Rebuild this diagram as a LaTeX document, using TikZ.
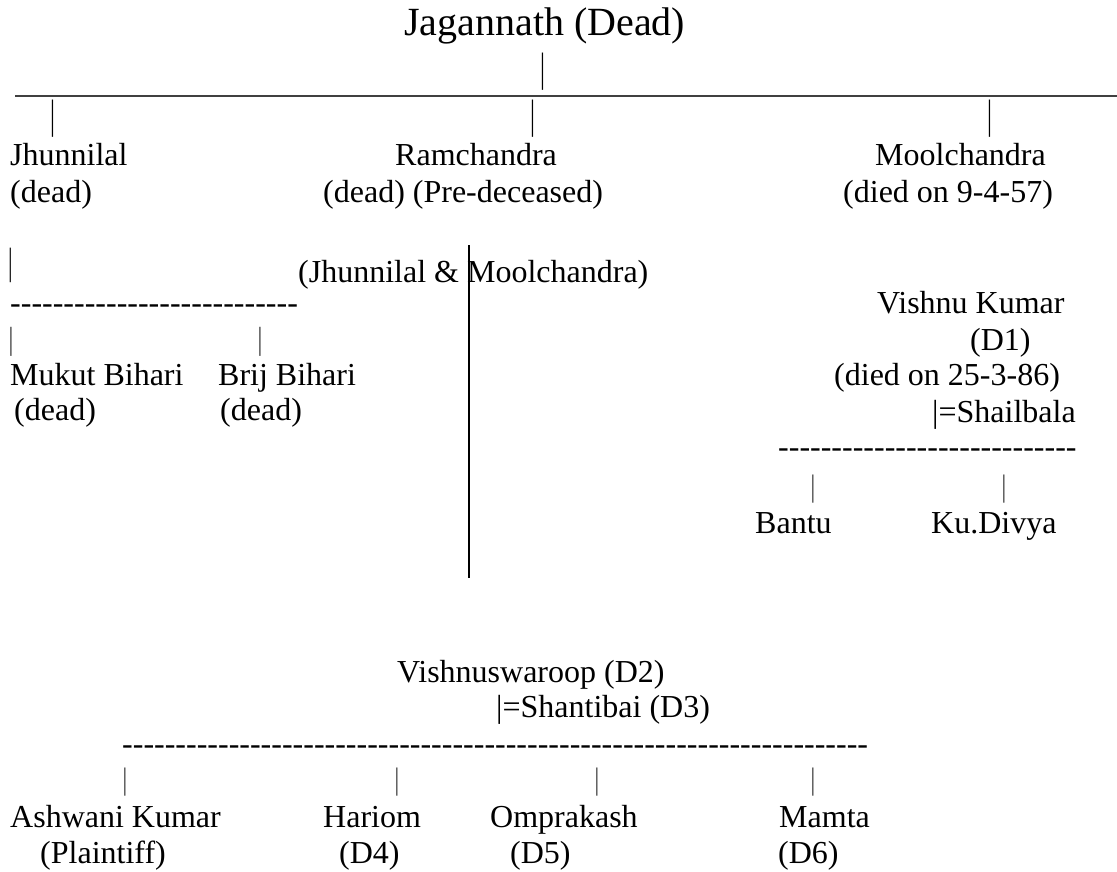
\documentclass[tikz,border=0pt]{standalone}
\usepackage{fontspec}
\newfontfamily\lserif{Liberation Serif}
\newcommand\thinbar{\scalebox{0.6}[1]{|}}
\begin{document}
\begin{tikzpicture}[x=1pt,y=-1pt,
  txt/.style={anchor=base west, inner sep=0pt, font=\lserif\fontsize{32}{36}\selectfont},
  titletxt/.style={anchor=base west, inner sep=0pt, font=\lserif\fontsize{40}{44}\selectfont},
  vbar/.style={anchor=center, inner sep=0pt, font=\lserif\fontsize{#1}{#1}\selectfont},
  vbar/.default=32,
  hline/.style={draw=black!75, line width=1.6pt},
  vline/.style={draw=black, line width=1.4pt}]
\useasboundingbox (0,0) rectangle (1117,872);
% top
\node[titletxt] (jag) at (404,36) {Jagannath (Dead)};
\node[vbar=41] (b0) at (543,72) {\thinbar};
\coordinate (hl) at (15,96);
\coordinate (hr) at (1117,96);
\draw[hline] (hl) -- (hr);
\node[vbar=41] (b1) at (53,118.5) {\thinbar};
\node[vbar=41] (b2) at (533,118.5) {\thinbar};
\node[vbar=41] (b3) at (990,118.5) {\thinbar};
\node[txt] (jhun) at (10,166) {Jhunnilal};
\node[txt] (jhund) at (10,202) {(dead)};
\node[txt] (ram) at (395,166) {Ramchandra};
\node[txt] (ramd) at (323,202) {(dead) (Pre-deceased)};
\node[txt] (mool) at (875,166) {Moolchandra};
\node[txt] (moold) at (843,202) {(died on 9-4-57)};
% left branch
\node[vbar=38] (b4) at (11,265) {\thinbar};
\node[txt] (jm) at (298,282) {(Jhunnilal \& Moolchandra)};
\coordinate (vt) at (469,245);
\coordinate (vb) at (469,578);
\draw[vline] (vt) -- (vb);
\node[txt] (dl) at (10,313.5) {---------------------------};
\node[vbar=32] (b5) at (11,342) {\thinbar};
\node[vbar=32] (b6) at (260,342) {\thinbar};
\node[txt] (mukut) at (10,385) {Mukut Bihari};
\node[txt] (brij) at (218,385) {Brij Bihari};
\node[txt] (mukd) at (14,420) {(dead)};
\node[txt] (brijd) at (220,420) {(dead)};
% right branch
\node[txt] (vk) at (877,313) {Vishnu Kumar};
\node[txt] (d1) at (970,350) {(D1)};
\node[txt] (vkd) at (834,385) {(died on 25-3-86)};
\node[txt] (shail) at (932,422) {|=Shailbala};
\node[txt] (dr) at (778,457.5) {----------------------------};
\node[vbar=31] (b7) at (813,489) {\thinbar};
\node[vbar=31] (b8) at (1004,489) {\thinbar};
\node[txt] (bantu) at (755,533) {Bantu};
\node[txt] (divya) at (931,533) {Ku.Divya};
% bottom
\node[txt] (vs) at (397,682) {Vishnuswaroop (D2)};
\node[txt] (shanti) at (496,717) {|=Shantibai (D3)};
\node[txt] (db) at (122,754.5) {----------------------------------------------------------------------};
\node[vbar=31] (b9) at (125,782) {\thinbar};
\node[vbar=31] (b10) at (397,782) {\thinbar};
\node[vbar=31] (b11) at (597,782) {\thinbar};
\node[vbar=31] (b12) at (813,782) {\thinbar};
\node[txt] (ash) at (10,827) {Ashwani Kumar};
\node[txt] (hari) at (323,827) {Hariom};
\node[txt] (omp) at (490,827) {Omprakash};
\node[txt] (mamta) at (779,827) {Mamta};
\node[txt] (plain) at (40,863) {(Plaintiff)};
\node[txt] (d4) at (339,863) {(D4)};
\node[txt] (d5) at (510,863) {(D5)};
\node[txt] (d6) at (778,863) {(D6)};
\end{tikzpicture}
\end{document}
